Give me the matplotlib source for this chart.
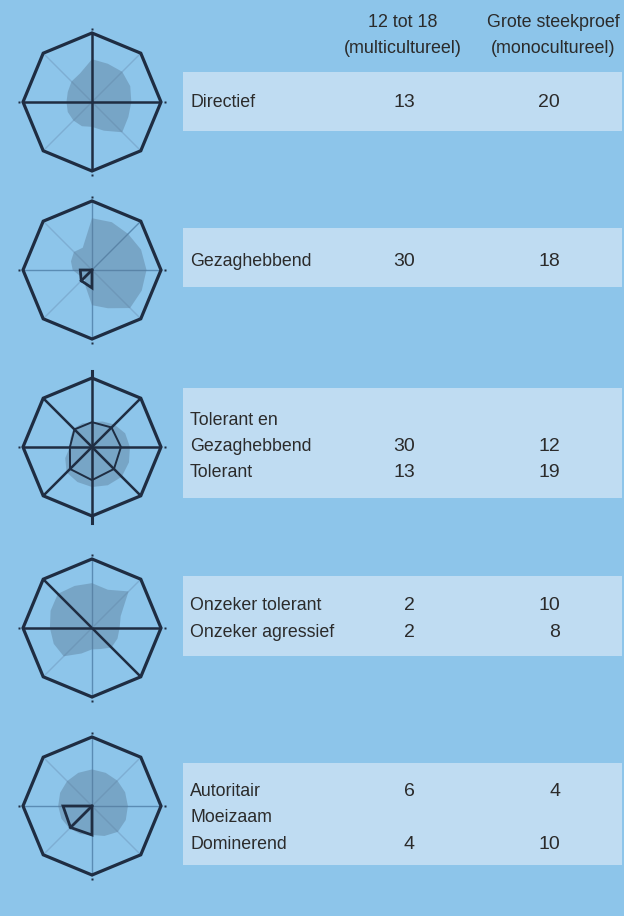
import numpy as np
import matplotlib.pyplot as plt
from matplotlib.patches import Polygon, Rectangle

# table
HEADER_1 = ['12 tot 18', '(multicultureel)']
HEADER_2 = ['Grote steekproef', '(monocultureel)']
ROW_LABELS = [
    ['Directief'],
    ['Gezaghebbend'],
    ['Tolerant en', 'Gezaghebbend', 'Tolerant'],
    ['Onzeker tolerant', 'Onzeker agressief'],
    ['Autoritair', 'Moeizaam', 'Dominerend'],
]
COL_MULTI = [['13'], ['30'], ['', '30', '13'], ['2', '2'], ['6', '', '4']]
COL_MONO = [['20'], ['18'], ['', '12', '19'], ['10', '8'], ['4', '', '10']]

# radar profiles, 16 directions clockwise from top, fraction of octagon radius
PROFILE_1 = [0.62, 0.60, 0.62, 0.60, 0.57, 0.57, 0.62, 0.45,
             0.36, 0.38, 0.38, 0.38, 0.37, 0.38, 0.42, 0.45]
PROFILE_2 = [0.75, 0.75, 0.74, 0.77, 0.79, 0.78, 0.78, 0.60,
             0.51, 0.25, 0.15, 0.20, 0.28, 0.33, 0.37, 0.35]
PROFILE_3 = [0.36, 0.40, 0.46, 0.52, 0.55, 0.58, 0.61, 0.60,
             0.58, 0.55, 0.52, 0.42, 0.32, 0.34, 0.38, 0.37]
PROFILE_4 = [0.65, 0.60, 0.75, 0.45, 0.40, 0.40, 0.40, 0.33,
             0.31, 0.40, 0.58, 0.60, 0.61, 0.65, 0.70, 0.66]
PROFILE_5 = [0.53, 0.52, 0.52, 0.52, 0.52, 0.53, 0.53, 0.47,
             0.42, 0.44, 0.46, 0.48, 0.49, 0.50, 0.51, 0.52]
PROFILES = [PROFILE_1, PROFILE_2, PROFILE_3, PROFILE_4, PROFILE_5]

# small dark wedge (W, SW, S) in some diagrams
WEDGES = [None, [0.17, 0.22, 0.26], None, None, [0.42, 0.44, 0.42]]
# inner outline for diagram 3 (8 directions)
OUTLINE_3 = [0.36, 0.40, 0.42, 0.45, 0.48, 0.45, 0.32, 0.36]

# spoke styles N, NE, E, SE, S, SW, W, NW
SPOKES = [
    ['k', 'l', 'k', 'l', 'k', 'l', 'k', 'l'],
    ['m', 'm', 'm', 'l', 'm', 'l', 'm', 'l'],
    ['k', 'k', 'k', 'k', 'k', 'k', 'k', 'k'],
    ['m', 'l', 'k', 'k', 'm', 'l', 'k', 'k'],
    ['m', 'l', 'm', 'l', 'm', 'l', 'm', 'l'],
]

BG = '#8dc5ea'
BAND = '#bfdcf2'
DARK = '#1f2d42'
TEXT = '#2b2b2b'

fig = plt.figure(figsize=(6.24, 9.16), dpi=100)
fig.patch.set_facecolor(BG)
ax = fig.add_axes([0, 0, 1, 1])
ax.set_xlim(0, 624)
ax.set_ylim(916, 0)
ax.axis('off')

centers_y = [102, 270, 447, 628, 806]
cx = 92
R = 69


def pt(r, ang, cy):
    a = np.deg2rad(ang)
    return cx + r * R * np.sin(a), cy - r * R * np.cos(a)


for i, cy in enumerate(centers_y):
    oct_pts = [pt(1, k * 45, cy) for k in range(8)]
    # thin spokes
    for k, s in enumerate(SPOKES[i]):
        if s == 'k':
            continue
        x, y = pt(1, k * 45, cy)
        col = '#5a8cb4' if s == 'm' else '#7eaed3'
        ax.plot([cx, x], [cy, y], color=col, lw=1.0, zorder=2)
    # profile
    prof = PROFILES[i]
    shade = [pt(r, k * 22.5, cy) for k, r in enumerate(prof)]
    ax.add_patch(Polygon(shade, closed=True, facecolor='#5a7a96', alpha=0.42,
                         edgecolor='none', zorder=3))
    if i == 2:
        inner = [pt(r, k * 45, cy) for k, r in enumerate(OUTLINE_3)]
        ax.add_patch(Polygon(inner, closed=True, facecolor='none',
                             edgecolor=DARK, lw=1.4, zorder=4))
    if WEDGES[i] is not None:
        w = WEDGES[i]
        wpts = [(cx, cy), pt(w[0], 270, cy), pt(w[1], 225, cy), pt(w[2], 180, cy)]
        ax.add_patch(Polygon(wpts, closed=True, facecolor='none',
                             edgecolor=DARK, lw=2.0, zorder=5))
        x, y = pt(w[1], 225, cy)
        ax.plot([cx, x], [cy, y], color=DARK, lw=2.0, zorder=5)
    # thick spokes
    for k, s in enumerate(SPOKES[i]):
        if s != 'k':
            continue
        x, y = pt(1, k * 45, cy)
        ax.plot([cx, x], [cy, y], color=DARK, lw=1.8, zorder=5,
                solid_capstyle='butt')
    ax.add_patch(Polygon(oct_pts, closed=True, facecolor='none',
                         edgecolor=DARK, lw=2.3, joinstyle='miter', zorder=6))
    # small marks at the tips
    for k in range(4):
        x, y = pt(1.06, k * 90, cy)
        ax.plot(x, y, marker='s', ms=1.6, color=DARK, mec='none', zorder=6)
    if i == 2:
        for k in (0, 180):
            x0, y0 = pt(1.0, k, cy)
            x1, y1 = pt(1.1, k, cy)
            ax.plot([x0, x1], [y0, y1], color=DARK, lw=2.2, zorder=6)

# bands
bands = [(72, 131), (228, 287), (388, 498), (576, 656), (763, 865)]
for y0, y1 in bands:
    ax.add_patch(Rectangle((183, y0), 622 - 183, y1 - y0, facecolor=BAND,
                           edgecolor='none', zorder=1))

label_font = dict(family='Liberation Sans', fontsize=12.8, color=TEXT)
num_font = dict(family='Liberation Sans', fontsize=14, color=TEXT)
head_font = dict(family='Liberation Sans', fontsize=12.9, color=TEXT)

for j, (h1, h2) in enumerate(zip(HEADER_1, HEADER_2)):
    yb = [27, 53][j]
    ax.text(403, yb, h1, ha='center', va='baseline', **head_font)
    ax.text(553, yb, h2, ha='center', va='baseline', **head_font)

baselines = [[107], [266], [425, 451, 477], [610, 637], [796, 822, 849]]
for labels, v1, v2, ys in zip(ROW_LABELS, COL_MULTI, COL_MONO, baselines):
    for lab, a, b, yb in zip(labels, v1, v2, ys):
        ax.text(190, yb, lab, ha='left', va='baseline', **label_font)
        if a:
            ax.text(415, yb, a, ha='right', va='baseline', **num_font)
        if b:
            ax.text(560, yb, b, ha='right', va='baseline', **num_font)

fig.savefig('out.png', dpi=100, facecolor=BG)
